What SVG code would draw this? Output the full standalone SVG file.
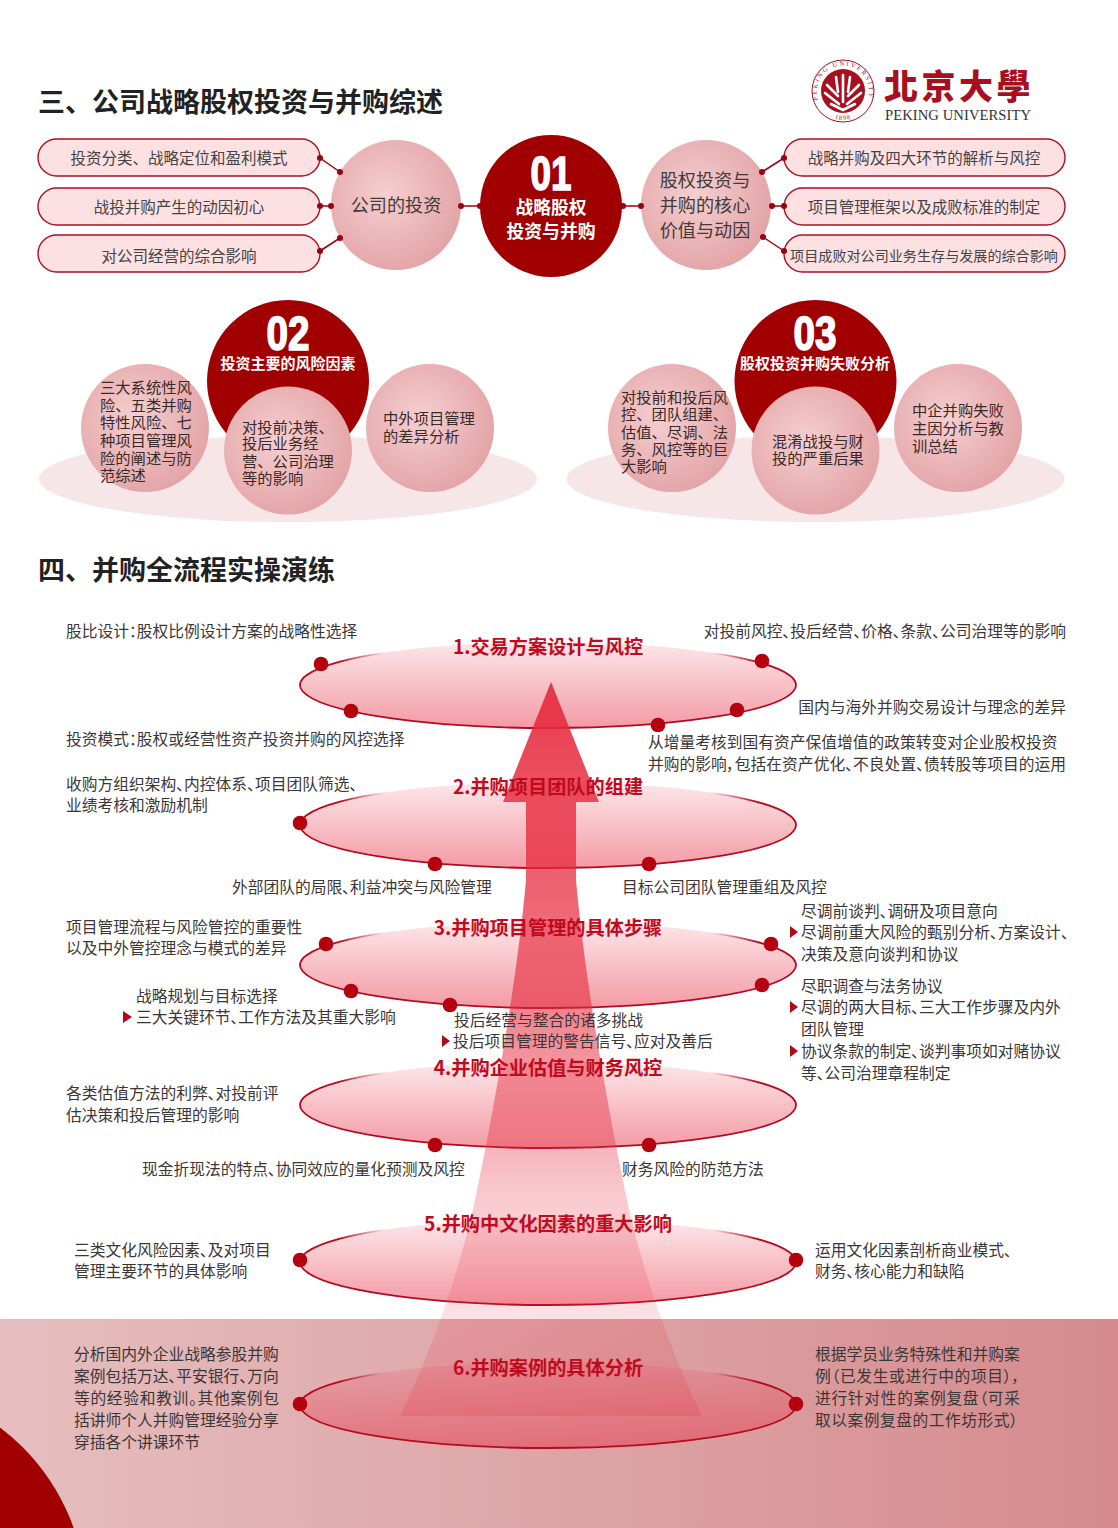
<svg xmlns="http://www.w3.org/2000/svg" width="1118" height="1528" viewBox="0 0 1118 1528">
<style>
text{font-family:"Noto Sans CJK SC","Noto Sans",sans-serif;fill:#3a3333}
.h{font-size:27px;font-weight:700;fill:#222}
.p{font-size:15.5px;text-anchor:middle;fill:#444}
.t{font-size:15.75px;fill:#3c3636;font-feature-settings:"palt"}
.c{font-size:15.3px;fill:#3a2a2a}
.m{font-size:18.1px;text-anchor:middle;fill:#443a3a}
.w{fill:#fff;font-weight:700;text-anchor:middle}
.n{font-family:"Liberation Sans",sans-serif;font-weight:700;fill:#fff;stroke:#fff;stroke-width:1.6;text-anchor:middle;font-size:48px}
.s{font-size:19.2px;font-weight:700;fill:#c00a1e;text-anchor:middle}
.pill{fill:#fce0e2;stroke:#a81222;stroke-width:1.4}
.big{fill:#a00000}
.ball{fill:url(#ball)}
.ground{fill:#f6e6e7}
.ell{fill:url(#ell)}
.edge{fill:none;stroke:#b50a20;stroke-width:1.8}
.dot{fill:#b4000f}
.sd{fill:#9c0010}
.ln{stroke:#9c0010;stroke-width:1.5;fill:none}
.tri{fill:#b00a18}
</style>
<defs>
<radialGradient id="ball" cx="0.42" cy="0.42" r="0.62"><stop offset="0" stop-color="#f5cfd0"/><stop offset="1" stop-color="#e3a3a6"/></radialGradient>
<linearGradient id="ell" x1="0" y1="0" x2="0" y2="1"><stop offset="0" stop-color="#e8364a" stop-opacity=".12"/><stop offset="1" stop-color="#e8364a" stop-opacity=".5"/></linearGradient>
<linearGradient id="band" x1="0" y1="0" x2="1" y2="0"><stop offset="0" stop-color="#e6bebf"/><stop offset="1" stop-color="#d58b8d"/></linearGradient>
<linearGradient id="fadeL" gradientUnits="userSpaceOnUse" x1="340" y1="0" x2="385" y2="0"><stop offset="0" stop-color="#b50a20"/><stop offset="1" stop-color="#b50a20" stop-opacity="0"/></linearGradient>
<linearGradient id="fadeR" gradientUnits="userSpaceOnUse" x1="711" y1="0" x2="756" y2="0"><stop offset="0" stop-color="#b50a20" stop-opacity="0"/><stop offset="1" stop-color="#b50a20"/></linearGradient>
<linearGradient id="arrow" gradientUnits="userSpaceOnUse" x1="0" y1="682" x2="0" y2="1416">
<stop offset="0" stop-color="#e62a3e" stop-opacity=".92"/><stop offset=".3" stop-color="#e62a3e" stop-opacity=".72"/><stop offset=".57" stop-color="#e62a3e" stop-opacity=".45"/><stop offset=".7" stop-color="#e62a3e" stop-opacity=".25"/><stop offset=".86" stop-color="#e62a3e" stop-opacity=".14"/><stop offset="1" stop-color="#e62a3e" stop-opacity=".2"/></linearGradient>
<path id="ringT" d="M818.400,100 A26,26 0 1 1 867.600,100"/>
<path id="ringB" d="M814,91 A29,29 0 0 0 872,91"/>
<g id="ring">
<ellipse class="ell" cx="548" cy="0" rx="248" ry="43"/>
<path class="edge" d="M340,-23.400 A248,43 0 1 0 756,-23.400"/>
<path fill="none" stroke="url(#fadeL)" stroke-width="1.8" d="M340,-23.400 A248,43 0 0 1 385,-32.400"/>
<path fill="none" stroke="url(#fadeR)" stroke-width="1.8" d="M711,-32.400 A248,43 0 0 1 756,-23.400"/>
</g>
</defs>
<rect width="1118" height="1528" fill="#fff"/>
<rect id="band-bg" x="0" y="1319" width="1118" height="209" fill="url(#band)"/>
<circle id="corner" cx="-130" cy="1600" r="216" class="big"/>

<text class="h" x="38" y="112">三、公司战略股权投资与并购综述</text>
<text class="h" x="38" y="580">四、并购全流程实操演练</text>

<g id="logo">
<circle cx="843" cy="91" r="31" fill="#fff" stroke="#a01020" stroke-width="1"/>
<circle cx="843" cy="91" r="22" fill="#a8101f"/>
<text font-size="6.4" style="fill:#a01020;font-family:'Liberation Serif',serif" letter-spacing="2"><textPath href="#ringT" startOffset="0">PEKING UNIVERSITY</textPath></text>
<text font-size="6.4" style="fill:#a01020;font-family:'Liberation Serif',serif" letter-spacing="1" text-anchor="middle"><textPath href="#ringB" startOffset="50%">1898</textPath></text>
<g fill="none" stroke="#fff" stroke-width="2.6" stroke-linecap="round">
<path d="M843,75V102M836,77L838,92M850,77L848,92"/>
<path d="M827,85L838,96M859,85L848,96M825,93L839,104M861,93L847,104M831,104L843,110L855,104"/>
</g>
<text x="884" y="99" font-size="34" font-weight="900" letter-spacing="3.500" style="fill:#a8101f;font-family:'Noto Sans CJK TC',sans-serif">北京大學</text>
<text x="885" y="120" font-size="14.6" textLength="146" style="fill:#333;font-family:'Liberation Serif',serif">PEKING UNIVERSITY</text>
</g>

<g id="pill-l1"><rect class="pill" x="38" y="139" width="282" height="37" rx="18.500"/><text class="p" x="179" y="163.500">投资分类、战略定位和盈利模式</text></g>
<g id="pill-l2"><rect class="pill" x="38" y="188" width="282" height="37" rx="18.500"/><text class="p" x="179" y="212.500">战投并购产生的动因初心</text></g>
<g id="pill-l3"><rect class="pill" x="38" y="235" width="282" height="37" rx="18.500"/><text class="p" x="179" y="261.500">对公司经营的综合影响</text></g>
<g id="pill-r1"><rect class="pill" x="784" y="139" width="281" height="37" rx="18.500"/><text class="p" x="924" y="163.500">战略并购及四大环节的解析与风控</text></g>
<g id="pill-r2"><rect class="pill" x="784" y="188" width="281" height="37" rx="18.500"/><text class="p" x="924" y="212.500">项目管理框架以及成败标准的制定</text></g>
<g id="pill-r3"><rect class="pill" x="784" y="235" width="281" height="37" rx="18.500"/><text class="p" x="924" y="261" style="font-size:14.1px">项目成败对公司业务生存与发展的综合影响</text></g>

<g id="ball-invest"><circle class="ball" cx="396" cy="205" r="65"/><text class="m" x="396" y="212">公司的投资</text></g>
<g id="ball-core"><circle class="ball" cx="706" cy="205" r="65"/><text class="m" x="705" y="187">股权投资与</text><text class="m" x="705" y="212">并购的核心</text><text class="m" x="705" y="237">价值与动因</text></g>
<g id="center-01"><circle class="big" cx="551" cy="206" r="71"/><text class="n" x="551" y="190" textLength="41" lengthAdjust="spacingAndGlyphs">01</text><text class="w" x="551" y="214" font-size="17.800" style="fill:#fff">战略股权</text><text class="w" x="551" y="238" font-size="17.800" style="fill:#fff">投资与并购</text></g>

<g id="connectors">
<path class="ln" d="M320,158L340,172M320,206L331,206M320,251L340,238M461,206L480,206M623,206L641,206M762,172L784,158M772,206L784,206M763,237L784,251"/>
<g class="sd">
<circle cx="320" cy="158" r="3"/><circle cx="340" cy="172" r="3"/><circle cx="320" cy="206" r="3"/><circle cx="331" cy="206" r="3"/><circle cx="320" cy="251" r="3"/><circle cx="340" cy="238" r="3"/>
<circle cx="461" cy="206" r="3"/><circle cx="480" cy="206" r="3"/><circle cx="623" cy="206" r="3"/><circle cx="641" cy="206" r="3"/>
<circle cx="762" cy="172" r="3"/><circle cx="784" cy="158" r="3"/><circle cx="772" cy="206" r="3"/><circle cx="784" cy="206" r="3"/><circle cx="763" cy="237" r="3"/><circle cx="784" cy="251" r="3"/>
</g>
</g>

<g id="group-02">
<ellipse class="ground" cx="288" cy="479" rx="249" ry="43"/>
<circle class="big" cx="288" cy="381" r="81"/>
<text class="n" x="288" y="350" textLength="43" lengthAdjust="spacingAndGlyphs">02</text>
<text class="w" x="288" y="369" font-size="15" style="fill:#fff">投资主要的风险因素</text>
<circle class="ball" cx="145" cy="428" r="64"/>
<circle class="ball" cx="288" cy="450.500" r="64"/>
<circle class="ball" cx="430" cy="428" r="64"/>
<text class="c" x="100" y="393">三大系统性风</text><text class="c" x="100" y="411">险、五类并购</text><text class="c" x="100" y="428">特性风险、七</text><text class="c" x="100" y="446">种项目管理风</text><text class="c" x="100" y="464">险的阐述与防</text><text class="c" x="100" y="481">范综述</text>
<text class="c" x="242" y="433">对投前决策、</text><text class="c" x="242" y="449">投后业务经</text><text class="c" x="242" y="467">营、公司治理</text><text class="c" x="242" y="484">等的影响</text>
<text class="c" x="383" y="424">中外项目管理</text><text class="c" x="383" y="442">的差异分析</text>
</g>

<g id="group-03">
<ellipse class="ground" cx="815.500" cy="479" rx="249" ry="43"/>
<circle class="big" cx="815.500" cy="381" r="81"/>
<text class="n" x="815" y="350" textLength="43" lengthAdjust="spacingAndGlyphs">03</text>
<text class="w" x="815" y="369" font-size="15" style="fill:#fff">股权投资并购失败分析</text>
<circle class="ball" cx="672" cy="428" r="64"/>
<circle class="ball" cx="815.500" cy="450.500" r="64"/>
<circle class="ball" cx="958" cy="428" r="64"/>
<text class="c" x="621" y="403">对投前和投后风</text><text class="c" x="621" y="420">控、团队组建、</text><text class="c" x="621" y="438">估值、尽调、法</text><text class="c" x="621" y="455">务、风控等的巨</text><text class="c" x="621" y="472">大影响</text>
<text class="c" x="772" y="447">混淆战投与财</text><text class="c" x="772" y="464">投的严重后果</text>
<text class="c" x="912" y="416">中企并购失败</text><text class="c" x="912" y="434">主因分析与教</text><text class="c" x="912" y="452">训总结</text>
</g>

<g id="ellipses">
<use id="stage-1" href="#ring" y="685"/>
<use id="stage-2" href="#ring" y="825"/>
<use id="stage-3" href="#ring" y="965"/>
<use id="stage-4" href="#ring" y="1105"/>
<use id="stage-5" href="#ring" y="1262"/>
<use id="stage-6" href="#ring" y="1405"/>
</g>

<path id="arrow-up" fill="url(#arrow)" d="M551,682L599,802L576,802L576,880C584,970 604,1090 627,1200C640,1260 665,1340 702,1416L400,1416C437,1340 462,1260 475,1200C498,1090 518,970 526,880L526,802L503,802Z"/>

<g id="stage-titles">
<text class="s" x="548" y="654">1.交易方案设计与风控</text>
<text class="s" x="548" y="794">2.并购项目团队的组建</text>
<text class="s" x="548" y="935">3.并购项目管理的具体步骤</text>
<text class="s" x="548" y="1075">4.并购企业估值与财务风控</text>
<text class="s" x="548" y="1231">5.并购中文化因素的重大影响</text>
<text class="s" x="548" y="1375">6.并购案例的具体分析</text>
</g>

<g id="stage-dots" class="dot">
<circle cx="321" cy="664" r="7.300"/><circle cx="351" cy="711" r="7.300"/><circle cx="762" cy="661" r="7.300"/><circle cx="737" cy="710" r="7.300"/><circle cx="658" cy="725" r="7.300"/>
<circle cx="300" cy="823" r="7.300"/><circle cx="435" cy="864" r="7.300"/><circle cx="649" cy="864" r="7.300"/>
<circle cx="326" cy="944" r="7.300"/><circle cx="351" cy="991" r="7.300"/><circle cx="450" cy="1005" r="7.300"/><circle cx="771" cy="944" r="7.300"/><circle cx="762" cy="985" r="7.300"/>
<circle cx="435" cy="1145" r="7.300"/><circle cx="649" cy="1145" r="7.300"/>
<circle cx="300" cy="1260" r="7.300"/><circle cx="796" cy="1260" r="7.300"/><circle cx="300" cy="1404" r="7.300"/><circle cx="796" cy="1404" r="7.300"/>
</g>

<g id="triangles" class="tri">
<path d="M790,926L798,932L790,938ZM790,1001L798,1007L790,1013ZM790,1045L798,1051L790,1057ZM123,1011L132,1017L123,1023ZM442,1035L450,1041L442,1047Z"/>
</g>

<g id="notes" transform="translate(0,1)">
<text class="t" x="66" y="636">股比设计：股权比例设计方案的战略性选择</text>
<text class="t" x="1066" y="636" text-anchor="end">对投前风控、投后经营、价格、条款、公司治理等的影响</text>
<text class="t" x="1066" y="712" text-anchor="end">国内与海外并购交易设计与理念的差异</text>
<text class="t" x="66" y="744">投资模式：股权或经营性资产投资并购的风控选择</text>
<text class="t" x="648" y="747">从增量考核到国有资产保值增值的政策转变对企业股权投资</text>
<text class="t" x="648" y="769" textLength="418">并购的影响，包括在资产优化、不良处置、债转股等项目的运用</text>
<text class="t" x="66" y="789">收购方组织架构、内控体系、项目团队筛选、</text>
<text class="t" x="66" y="810">业绩考核和激励机制</text>
<text class="t" x="232" y="892">外部团队的局限、利益冲突与风险管理</text>
<text class="t" x="622" y="892">目标公司团队管理重组及风控</text>
<text class="t" x="66" y="932">项目管理流程与风险管控的重要性</text>
<text class="t" x="66" y="953">以及中外管控理念与模式的差异</text>
<text class="t" x="801" y="916">尽调前谈判、调研及项目意向</text>
<text class="t" x="801" y="937">尽调前重大风险的甄别分析、方案设计、</text>
<text class="t" x="801" y="959">决策及意向谈判和协议</text>
<text class="t" x="801" y="991">尽职调查与法务协议</text>
<text class="t" x="801" y="1012">尽调的两大目标、三大工作步骤及内外</text>
<text class="t" x="801" y="1034">团队管理</text>
<text class="t" x="801" y="1056">协议条款的制定、谈判事项如对赌协议</text>
<text class="t" x="801" y="1078">等、公司治理章程制定</text>
<text class="t" x="136" y="1001">战略规划与目标选择</text>
<text class="t" x="136" y="1022">三大关键环节、工作方法及其重大影响</text>
<text class="t" x="454" y="1025">投后经营与整合的诸多挑战</text>
<text class="t" x="453" y="1046">投后项目管理的警告信号、应对及善后</text>
<text class="t" x="66" y="1098">各类估值方法的利弊、对投前评</text>
<text class="t" x="66" y="1120">估决策和投后管理的影响</text>
<text class="t" x="142" y="1174">现金折现法的特点、协同效应的量化预测及风控</text>
<text class="t" x="622" y="1174">财务风险的防范方法</text>
<text class="t" x="74" y="1255">三类文化风险因素、及对项目</text>
<text class="t" x="74" y="1276">管理主要环节的具体影响</text>
<text class="t" x="815" y="1255">运用文化因素剖析商业模式、</text>
<text class="t" x="815" y="1276">财务、核心能力和缺陷</text>
<text class="t" x="74" y="1359">分析国内外企业战略参股并购</text>
<text class="t" x="74" y="1381">案例包括万达、平安银行、万向</text>
<text class="t" x="74" y="1403" textLength="205">等的经验和教训。其他案例包</text>
<text class="t" x="74" y="1425">括讲师个人并购管理经验分享</text>
<text class="t" x="74" y="1447">穿插各个讲课环节</text>
<text class="t" x="815" y="1359">根据学员业务特殊性和并购案</text>
<text class="t" x="815" y="1381" textLength="205">例（已发生或进行中的项目），</text>
<text class="t" x="815" y="1403" textLength="205">进行针对性的案例复盘（可采</text>
<text class="t" x="815" y="1425" textLength="203">取以案例复盘的工作坊形式）</text>
</g>
</svg>
